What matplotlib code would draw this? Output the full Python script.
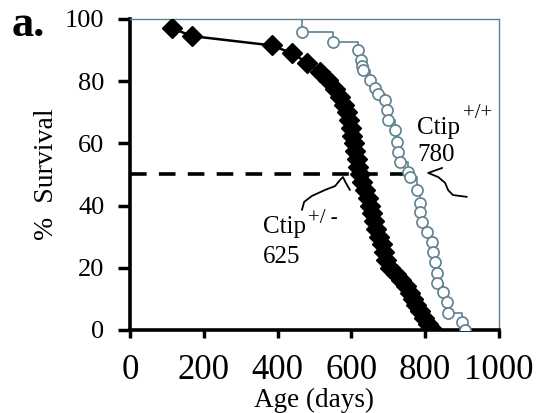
import matplotlib
matplotlib.use("Agg")
import matplotlib.pyplot as plt

# Ctip+/- (filled diamonds), days and % survival
het_days = [115, 168, 385, 438, 480, 515, 536, 556, 570, 580, 588, 594, 598, 602,
            606, 611, 615, 619, 624, 630, 638, 645, 650, 656, 662, 668, 675, 682,
            688, 695, 705, 720, 735, 748, 758, 766, 776, 786, 797, 808, 820]
het_surv = [97, 94.5, 91.5, 89, 86, 83, 80.5, 77.5, 75, 72.5, 70, 67.5, 65, 62.5,
            60, 57.5, 55, 52.5, 50, 47.5, 45, 42.5, 40, 37.5, 35, 32.5, 30, 27.5,
            25, 22.5, 20, 18, 16, 14, 12, 10, 8, 6, 4, 2, 0]

# Ctip+/+ (open circles), step curve
wt_days = [0, 466, 550, 618, 626, 629, 631, 650, 664, 672, 691, 696, 699, 718, 724,
           726, 732, 753, 759, 778, 786, 786, 791, 805, 818, 821, 827, 832, 832,
           848, 859, 862, 900, 908]
wt_surv = [100, 95.8, 92.6, 90, 86.8, 85, 83.6, 80.4, 77.8, 76, 74, 70.7, 67.5, 64.3,
           60.5, 57.2, 54, 50.8, 49.2, 45, 40.8, 38, 34.7, 31.5, 28.3, 25, 21.9,
           18.3, 15, 12.2, 9, 5.5, 2.6, 0]

x_ticks = [0, 200, 400, 600, 800, 1000]
y_ticks = [0, 20, 40, 60, 80, 100]
median_level = 50
median_end = 767

blue = "#5f8090"
serif = ["Liberation Serif", "DejaVu Serif"]
plt.rcParams["font.family"] = serif

fig = plt.figure(figsize=(5.48, 4.13), dpi=100)
ax = fig.add_axes([0.2372, 0.2010, 0.6734, 0.753])

ax.plot([0, median_end], [median_level, median_level], color="black", lw=2.6,
        dashes=(4.6, 3.4), zorder=1)

ax.plot(wt_days, wt_surv, drawstyle="steps-post", color=blue, lw=1.2, zorder=2)
ax.plot(wt_days[1:], wt_surv[1:], ls="none", marker="o", ms=8, mfc="white",
        mec=blue, mew=1.2, zorder=3)

ax.plot(het_days, het_surv, color="black", lw=1.8, marker="D", ms=10,
        mfc="black", mec="black", zorder=4)

# braces
ax.plot([466, 472, 493, 528, 556, 569, 577, 585, 596],
        [38.6, 41.2, 43.1, 45, 46.3, 48.2, 49.2, 47.3, 45],
        color="black", lw=1.3, zorder=5, solid_capstyle="round")
ax.plot([846, 808, 835, 854, 862, 875, 913],
        [52.1, 50.5, 49.2, 47.3, 45, 43.4, 42.8],
        color="black", lw=1.3, zorder=5, clip_on=False, solid_capstyle="round")

ax.text(360, 33, "Ctip", fontsize=18, va="center", ha="left")
ax.text(482, 35.8, "+/ -", fontsize=15, va="center", ha="left")
ax.text(360, 23.5, "625", fontsize=18, va="center", ha="left")
ax.text(778, 65, "Ctip", fontsize=18, va="center", ha="left")
ax.text(902, 69.5, "+/+", fontsize=15, va="center", ha="left")
ax.text(778, 56.3, "780", fontsize=18, va="center", ha="left")

ax.set_xlim(0, 1000)
ax.set_ylim(0, 100)
ax.set_xticks(x_ticks)
ax.set_yticks(y_ticks)
ax.tick_params(axis="x", labelsize=25, length=6, width=2.5, pad=11, direction="out")
ax.tick_params(axis="y", labelsize=19, length=8.5, width=2.5, pad=10, direction="out")

for s in ["left", "bottom"]:
    ax.spines[s].set_linewidth(2.6)
    ax.spines[s].set_color("black")
for s in ["top", "right"]:
    ax.spines[s].set_linewidth(1.0)
    ax.spines[s].set_color(blue)

ax.set_xlabel("Age (days)", fontsize=19.5, labelpad=1)
ax.set_ylabel("%  Survival", fontsize=20, labelpad=4)

fig.text(12 / 548, 1 - 25 / 413, "a.", fontsize=32, fontweight="bold",
         va="center", ha="left")

fig.savefig("out.png", dpi=100)
